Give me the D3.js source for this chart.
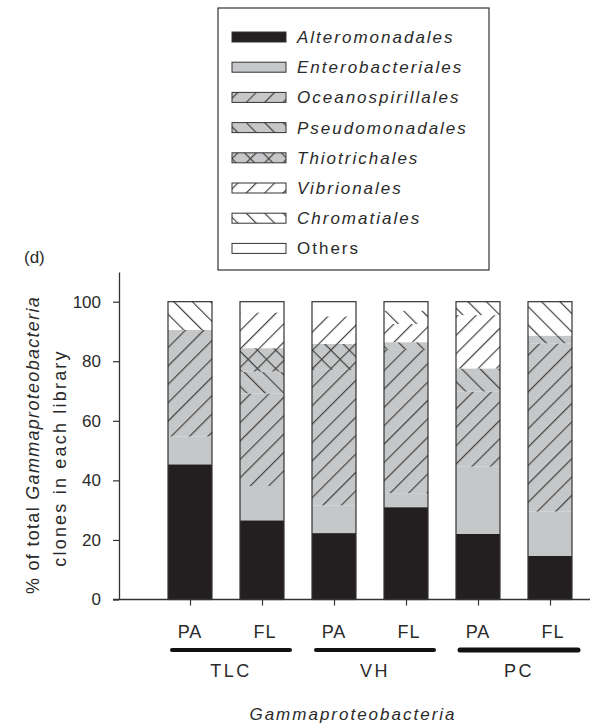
<!DOCTYPE html>
<html>
<head>
<meta charset="utf-8">
<script src="https://cdn.jsdelivr.net/npm/d3@7"></script>
<style>
  body { margin: 0; background: #fff; }
  text { font-family: "Liberation Sans", Arial, sans-serif; fill: #2a2a2a; }
</style>
</head>
<body>
<svg width="590" height="724"></svg>
<script>
// --- data (% of clones per library) ---
const samples = ['PA', 'FL', 'PA', 'FL', 'PA', 'FL'];
const sites = ['TLC', 'VH', 'PC'];
const orders = ['Alteromonadales', 'Enterobacteriales', 'Oceanospirillales', 'Pseudomonadales',
                'Thiotrichales', 'Vibrionales', 'Chromatiales', 'Others'];

const alteromonadales   = [45.4, 26.6, 22.3, 31.0, 22.0, 14.7];
const enterobacteriales = [ 9.3, 11.5,  9.3,  4.7, 22.6, 14.8];
const oceanospirillales = [35.8, 31.1, 45.5, 48.1, 25.2, 56.5];
const pseudomonadales   = [ 0.0,  7.3,  0.0,  2.6,  7.8,  2.6];
const thiotrichales     = [ 0.0,  7.9,  8.7,  0.0,  0.0,  0.0];
const vibrionales       = [ 0.0, 12.0,  9.3,  6.1, 17.9,  0.0];
const chromatiales      = [ 9.5,  0.0,  0.0,  4.5,  4.5, 11.4];
const others            = [ 0.0,  3.6,  4.9,  3.0,  0.0,  0.0];

const yTicks = [0, 20, 40, 60, 80, 100];

const series = [alteromonadales, enterobacteriales, oceanospirillales, pseudomonadales,
                thiotrichales, vibrionales, chromatiales, others];

const table = samples.map((s, i) => {
  const row = {idx: i};
  orders.forEach((o, k) => row[o] = series[k][i]);
  return row;
});

const svg = d3.select('svg');
const defs = svg.append('defs');

const GRAY = '#c6c7c9';
const INK = '#444';

// hatch patterns
function hatch(id, bg, angles) {
  const p = defs.append('pattern')
    .attr('id', id)
    .attr('patternUnits', 'userSpaceOnUse')
    .attr('width', 13).attr('height', 13);
  p.append('rect').attr('width', 13).attr('height', 13).attr('fill', bg);
  if (angles.length === 1) {
    p.attr('patternTransform', `rotate(${angles[0]})`);
    p.append('line').attr('x1', 0.6).attr('y1', 0).attr('x2', 0.6).attr('y2', 13)
      .attr('stroke', INK).attr('stroke-width', 1.2);
  } else {
    p.attr('patternTransform', 'rotate(45)');
    p.append('line').attr('x1', 0.6).attr('y1', 0).attr('x2', 0.6).attr('y2', 13)
      .attr('stroke', INK).attr('stroke-width', 1.2);
    p.append('line').attr('x1', 0).attr('y1', 0.6).attr('x2', 13).attr('y2', 0.6)
      .attr('stroke', INK).attr('stroke-width', 1.2);
  }
}
hatch('oce', GRAY, [45]);
hatch('pse', GRAY, [-45]);
hatch('thi', GRAY, [45, -45]);
hatch('vib', '#fff', [45]);
hatch('chr', '#fff', [-45]);

const fills = {
  Alteromonadales: '#231f20',
  Enterobacteriales: GRAY,
  Oceanospirillales: 'url(#oce)',
  Pseudomonadales: 'url(#pse)',
  Thiotrichales: 'url(#thi)',
  Vibrionales: 'url(#vib)',
  Chromatiales: 'url(#chr)',
  Others: '#fff'
};

const x = d3.scalePoint().domain(d3.range(samples.length)).range([190, 550]);
const barW = 44;
const y = d3.scaleLinear().domain([0, 110]).range([599.5, 271.9]);

const stacked = d3.stack().keys(orders)(table);

// bars
const layers = svg.append('g').selectAll('g').data(stacked).join('g')
  .attr('fill', d => fills[d.key]);

layers.selectAll('rect').data(d => d).join('rect')
  .attr('x', d => x(d.data.idx) - barW / 2)
  .attr('width', barW)
  .attr('y', d => y(d[1]))
  .attr('height', d => y(d[0]) - y(d[1]));

// outline of each whole bar
svg.append('g').selectAll('rect').data(table).join('rect')
  .attr('x', d => x(d.idx) - barW / 2)
  .attr('width', barW)
  .attr('y', d => y(d3.sum(orders, o => d[o])))
  .attr('height', d => y(0) - y(d3.sum(orders, o => d[o])))
  .attr('fill', 'none')
  .attr('stroke', '#333')
  .attr('stroke-width', 1.2);

// y axis
const yAxis = svg.append('g')
  .attr('transform', 'translate(119,0)')
  .call(d3.axisLeft(y).tickValues(yTicks).tickSize(6).tickSizeOuter(0).tickPadding(12));
yAxis.select('.domain').attr('stroke', '#333').attr('stroke-width', 1.3);
yAxis.selectAll('.tick line').attr('stroke', '#333').attr('stroke-width', 1.2);
yAxis.selectAll('.tick text')
  .style('font-family', '"Liberation Sans", Arial, sans-serif')
  .style('font-size', '17px').attr('fill', '#2a2a2a');

// x axis
const xAxis = svg.append('g')
  .attr('transform', `translate(0,${y(0)})`)
  .call(d3.axisBottom(x).tickSize(6).tickSizeOuter(0).tickFormat(''));
xAxis.select('.domain').remove();
xAxis.selectAll('.tick line').attr('stroke', '#333').attr('stroke-width', 1.2);
svg.append('line')
  .attr('x1', 113).attr('x2', 590)
  .attr('y1', y(0)).attr('y2', y(0))
  .attr('stroke', '#333').attr('stroke-width', 1.3);

// sample labels
svg.append('g').selectAll('text').data(samples).join('text')
  .attr('x', (d, i) => x(i) + (i % 2 ? 3 : 0))
  .attr('y', 638)
  .attr('text-anchor', 'middle')
  .style('font-size', '18px')
  .style('letter-spacing', '1px')
  .text(d => d);

// site group lines and labels
sites.forEach((s, k) => {
  const a = x(2 * k) - 18, b = x(2 * k + 1) + 28;
  svg.append('line')
    .attr('x1', a).attr('x2', b).attr('y1', 650).attr('y2', 650)
    .attr('stroke', '#111')
    .attr('stroke-width', k === 2 ? 5 : 4)
    .attr('stroke-linecap', 'round');
  svg.append('text')
    .attr('x', (a + b) / 2)
    .attr('y', 677)
    .attr('text-anchor', 'middle')
    .style('font-size', '18px')
    .style('letter-spacing', '2.5px')
    .text(s);
});

svg.append('text')
  .attr('x', 353).attr('y', 720)
  .attr('text-anchor', 'middle')
  .style('font-size', '17px')
  .style('font-style', 'italic')
  .style('letter-spacing', '2px')
  .text('Gammaproteobacteria');

// y title
const yt = svg.append('text')
  .attr('transform', 'translate(39,445) rotate(-90)')
  .attr('text-anchor', 'middle')
  .style('font-size', '18px')
  .style('letter-spacing', '1.3px');
yt.append('tspan').text('% of total ');
yt.append('tspan').style('font-style', 'italic').text('Gammaproteobacteria');

svg.append('text')
  .attr('transform', 'translate(66,458) rotate(-90)')
  .attr('text-anchor', 'middle')
  .style('font-size', '18px')
  .style('letter-spacing', '2.2px')
  .text('clones in each library');

svg.append('text')
  .attr('x', 24).attr('y', 263)
  .style('font-size', '17px')
  .text('(d)');

// legend
const legend = svg.append('g');
legend.append('rect')
  .attr('x', 218).attr('y', 8).attr('width', 271).attr('height', 262)
  .attr('fill', '#fff').attr('stroke', '#333').attr('stroke-width', 1.2);

const item = legend.selectAll('g.item').data(orders).join('g')
  .attr('class', 'item')
  .attr('transform', (d, i) => `translate(232,${37 + i * 30.2})`);

item.append('rect')
  .attr('x', 0).attr('y', -5).attr('width', 54).attr('height', 10)
  .attr('fill', d => fills[d])
  .attr('stroke', '#333').attr('stroke-width', 1);

item.append('text')
  .attr('x', 65).attr('y', 6)
  .style('font-size', '17px')
  .style('letter-spacing', '2px')
  .style('font-style', d => d === 'Others' ? 'normal' : 'italic')
  .text(d => d);
</script>
</body>
</html>
